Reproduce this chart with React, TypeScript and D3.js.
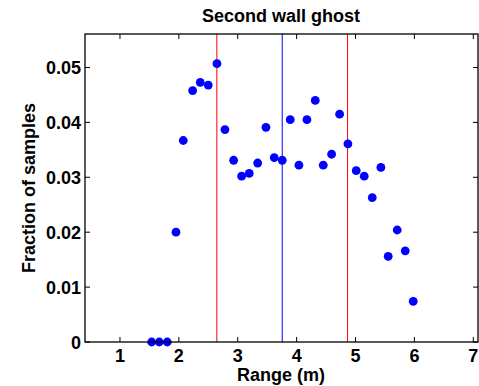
import React from "react";
import * as d3 from "d3";

// Range bins (m) and the fraction of samples falling in each bin
const rangeBins: number[] = [
  1.538, 1.667, 1.803, 1.951, 2.075, 2.234, 2.363, 2.499, 2.647, 2.783, 2.93,
  3.066, 3.195, 3.338, 3.479, 3.62, 3.756, 3.891, 4.039, 4.175, 4.316, 4.452,
  4.594, 4.73, 4.871, 5.012, 5.148, 5.284, 5.431, 5.555, 5.708, 5.844, 5.98,
];
const fractions: number[] = [
  0, 0, 0, 0.02, 0.0367, 0.0458, 0.0473, 0.0468, 0.0507, 0.0387, 0.0331,
  0.0302, 0.0307, 0.0326, 0.0391, 0.0336, 0.0331, 0.0405, 0.0322, 0.0405,
  0.044, 0.0322, 0.0342, 0.0415, 0.0361, 0.0312, 0.0302, 0.0263, 0.0318,
  0.0156, 0.0204, 0.0166, 0.0074,
];
// Vertical reference lines: mean and mean ± one deviation
const meanRange = 3.755;
const boundLines: number[] = [2.645, 4.865];

const xTicks: number[] = [1, 2, 3, 4, 5, 6, 7];
const yTicks: number[] = [0, 0.01, 0.02, 0.03, 0.04, 0.05];

const W = 479;
const H = 386;
const plot = { left: 85, right: 478, top: 34, bottom: 342 };
const font = "'Liberation Sans', Arial, Helvetica, sans-serif";
const fs = 18;

export default function App() {
  const x = d3.scaleLinear().domain([0.406, 7.08]).range([plot.left, plot.right]);
  const y = d3.scaleLinear().domain([0, 0.0561]).range([plot.bottom, plot.top]);
  const tick = 5;

  return (
    <svg
      width={W}
      height={H}
      style={{ position: "absolute", left: 0, top: 0, display: "block", background: "#fff" }}
    >
      <rect x={0} y={0} width={W} height={H} fill="#fff" />
      {/* reference lines */}
      {boundLines.map((v, i) => (
        <line key={"r" + i} x1={x(v)} x2={x(v)} y1={plot.top} y2={plot.bottom} stroke="#ff0000" strokeWidth={1} />
      ))}
      <line x1={x(meanRange)} x2={x(meanRange)} y1={plot.top} y2={plot.bottom} stroke="#0000ff" strokeWidth={1} />

      {/* data points */}
      {rangeBins.map((r, i) => (
        <circle key={i} cx={x(r)} cy={y(fractions[i])} r={4.4} fill="#0000ff" />
      ))}

      {/* axes box */}
      <rect
        x={plot.left}
        y={plot.top}
        width={plot.right - plot.left}
        height={plot.bottom - plot.top}
        fill="none"
        stroke="#000"
        strokeWidth={1.3}
      />
      {xTicks.map((t) => (
        <g key={"x" + t}>
          <line x1={x(t)} x2={x(t)} y1={plot.bottom} y2={plot.bottom - tick} stroke="#000" />
          <line x1={x(t)} x2={x(t)} y1={plot.top} y2={plot.top + tick} stroke="#000" />
          <text x={x(t)} y={362} textAnchor="middle" fontFamily={font} fontWeight="bold" fontSize={fs}>
            {t}
          </text>
        </g>
      ))}
      {yTicks.map((t) => (
        <g key={"y" + t}>
          <line x1={plot.left} x2={plot.left + tick} y1={y(t)} y2={y(t)} stroke="#000" />
          <line x1={plot.right} x2={plot.right - tick} y1={y(t)} y2={y(t)} stroke="#000" />
          <text x={81} y={y(t) + 6.5} textAnchor="end" fontFamily={font} fontWeight="bold" fontSize={fs}>
            {t === 0 ? "0" : d3.format(".2f")(t)}
          </text>
        </g>
      ))}

      <text x={281} y={22} textAnchor="middle" fontFamily={font} fontWeight="bold" fontSize={fs}>
        Second wall ghost
      </text>
      <text x={281} y={381} textAnchor="middle" fontFamily={font} fontWeight="bold" fontSize={fs}>
        Range (m)
      </text>
      <text
        transform={`translate(35, ${(plot.top + plot.bottom) / 2}) rotate(-90)`}
        textAnchor="middle"
        fontFamily={font}
        fontWeight="bold"
        fontSize={fs}
      >
        Fraction of samples
      </text>
    </svg>
  );
}
